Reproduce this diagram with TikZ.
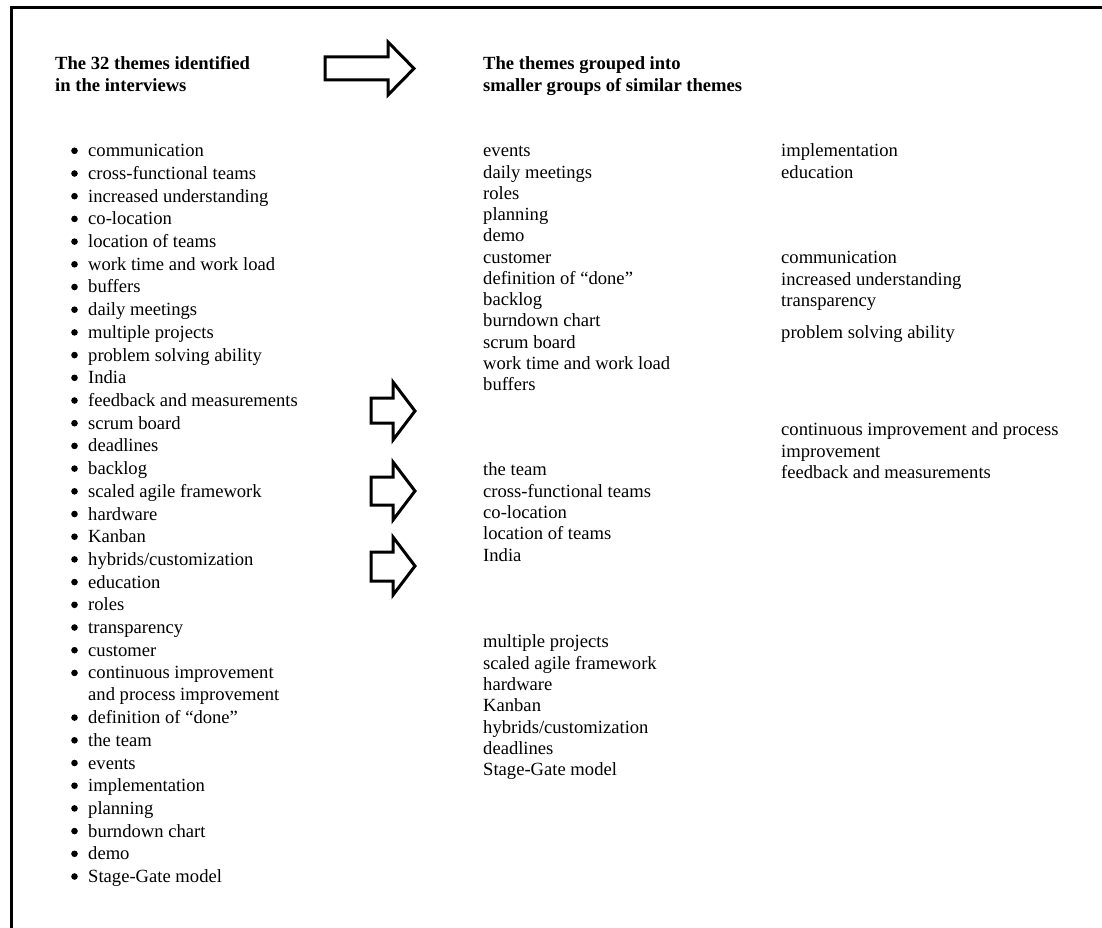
\documentclass[tikz,border=0pt]{standalone}
\usepackage{fontspec}
\setmainfont{Liberation Serif}
\begin{document}
\begin{tikzpicture}[x=1pt,y=-1pt,
  txt/.style={anchor=mid west,inner sep=0pt,font=\fontsize{18.6}{22.7}\selectfont},
  hd/.style={txt,font=\fontsize{18.6}{22.7}\selectfont\bfseries},
  bul/.style={circle,fill=black,inner sep=0pt,minimum size=6.6pt},
  blockarrow/.style={draw=black,line width=3pt,miter limit=10,line join=miter,fill=white}]
\useasboundingbox (0,0) rectangle (1102,928);
\draw[line width=3pt] (11.5,940) -- (11.5,7.5) -- (1115,7.5);
% arrows
\draw[blockarrow] (325,57) -- (388,57) -- (388,42) -- (414,68.5) -- (388,95) -- (388,80) -- (325,80) -- cycle;
\draw[blockarrow] (371,398) -- (393,398) -- (393,382) -- (415,411) -- (393,440) -- (393,423) -- (371,423) -- cycle;
\draw[blockarrow] (371,477) -- (393,477) -- (393,462) -- (415,491) -- (393,520) -- (393,505) -- (371,505) -- cycle;
\draw[blockarrow] (371,552) -- (393,552) -- (393,537) -- (415,566) -- (393,595) -- (393,581) -- (371,581) -- cycle;
% bullets
\foreach \y [count=\i] in {150,172.7,195.4,218.1,240.8,263.5,286.2,308.9,331.6,354.3,377,399.7,422.4,445.1,467.8,490.5,513.2,535.9,558.6,581.3,604,626.7,649.4,672.1,716.8,739.5,762.2,784.9,807.6,830.3,853,875.7}
  \node[bul] (b\i) at (74.5,\y+0.8) {};
\begin{scope}[shift={(0,4.5)}]
% headings
\node[hd] (h1a) at (55,63) {The 32 themes identified};
\node[hd] (h1b) at (55,85) {in the interviews};
\node[hd] (h2a) at (483,63) {The themes grouped into};
\node[hd] (h2b) at (483,85) {smaller groups of similar themes};
% left list
\node[txt] (l1) at (88,150) {communication};
\node[txt] (l2) at (88,172.7) {cross-functional teams};
\node[txt] (l3) at (88,195.4) {increased understanding};
\node[txt] (l4) at (88,218.1) {co-location};
\node[txt] (l5) at (88,240.8) {location of teams};
\node[txt] (l6) at (88,263.5) {work time and work load};
\node[txt] (l7) at (88,286.2) {buffers};
\node[txt] (l8) at (88,308.9) {daily meetings};
\node[txt] (l9) at (88,331.6) {multiple projects};
\node[txt] (l10) at (88,354.3) {problem solving ability};
\node[txt] (l11) at (88,377) {India};
\node[txt] (l12) at (88,399.7) {feedback and measurements};
\node[txt] (l13) at (88,422.4) {scrum board};
\node[txt] (l14) at (88,445.1) {deadlines};
\node[txt] (l15) at (88,467.8) {backlog};
\node[txt] (l16) at (88,490.5) {scaled agile framework};
\node[txt] (l17) at (88,513.2) {hardware};
\node[txt] (l18) at (88,535.9) {Kanban};
\node[txt] (l19) at (88,558.6) {hybrids/customization};
\node[txt] (l20) at (88,581.3) {education};
\node[txt] (l21) at (88,604) {roles};
\node[txt] (l22) at (88,626.7) {transparency};
\node[txt] (l23) at (88,649.4) {customer};
\node[txt] (l24) at (88,672.1) {continuous improvement};
\node[txt] (l24b) at (88,694) {and process improvement};
\node[txt] (l25) at (88,716.8) {definition of “done”};
\node[txt] (l26) at (88,739.5) {the team};
\node[txt] (l27) at (88,762.2) {events};
\node[txt] (l28) at (88,784.9) {implementation};
\node[txt] (l29) at (88,807.6) {planning};
\node[txt] (l30) at (88,830.3) {burndown chart};
\node[txt] (l31) at (88,853) {demo};
\node[txt] (l32) at (88,875.7) {Stage-Gate model};
% middle column group 1
\node[txt] (m1) at (483,150) {events};
\node[txt] (m2) at (483,171.3) {daily meetings};
\node[txt] (m3) at (483,192.5) {roles};
\node[txt] (m4) at (483,213.8) {planning};
\node[txt] (m5) at (483,235) {demo};
\node[txt] (m6) at (483,256.3) {customer};
\node[txt] (m7) at (483,277.6) {definition of “done”};
\node[txt] (m8) at (483,298.8) {backlog};
\node[txt] (m9) at (483,320.1) {burndown chart};
\node[txt] (m10) at (483,341.4) {scrum board};
\node[txt] (m11) at (483,362.6) {work time and work load};
\node[txt] (m12) at (483,383.9) {buffers};
% group 2
\node[txt] (n1) at (483,469) {the team};
\node[txt] (n2) at (483,490.3) {cross-functional teams};
\node[txt] (n3) at (483,511.6) {co-location};
\node[txt] (n4) at (483,532.9) {location of teams};
\node[txt] (n5) at (483,554.2) {India};
% group 3
\node[txt] (p1) at (483,641) {multiple projects};
\node[txt] (p2) at (483,662.3) {scaled agile framework};
\node[txt] (p3) at (483,683.6) {hardware};
\node[txt] (p4) at (483,704.9) {Kanban};
\node[txt] (p5) at (483,726.2) {hybrids/customization};
\node[txt] (p6) at (483,747.5) {deadlines};
\node[txt] (p7) at (483,768.8) {Stage-Gate model};
% right column
\node[txt] (r1) at (781,150) {implementation};
\node[txt] (r2) at (781,171.3) {education};
\node[txt] (r3) at (781,257) {communication};
\node[txt] (r4) at (781,278.3) {increased understanding};
\node[txt] (r5) at (781,299.6) {transparency};
\node[txt] (r6) at (781,332) {problem solving ability};
\node[txt] (r7) at (781,429) {continuous improvement and process};
\node[txt] (r8) at (781,450.3) {improvement};
\node[txt] (r9) at (781,471.6) {feedback and measurements};
\end{scope}
\end{tikzpicture}
\end{document}
